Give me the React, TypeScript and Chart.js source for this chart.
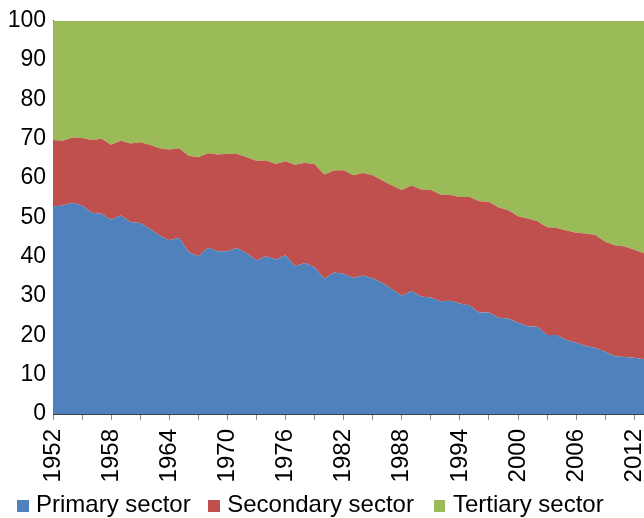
import React, { useEffect, useRef } from "react";
import { Chart, registerables } from "chart.js";

Chart.register(...registerables);

const YEARS = [
  "1952", "1953", "1954", "1955", "1956", "1957", "1958", "1959", "1960", "1961",
  "1962", "1963", "1964", "1965", "1966", "1967", "1968", "1969", "1970", "1971",
  "1972", "1973", "1974", "1975", "1976", "1977", "1978", "1979", "1980", "1981",
  "1982", "1983", "1984", "1985", "1986", "1987", "1988", "1989", "1990", "1991",
  "1992", "1993", "1994", "1995", "1996", "1997", "1998", "1999", "2000", "2001",
  "2002", "2003", "2004", "2005", "2006", "2007", "2008", "2009", "2010", "2011",
  "2012", "2013",
];

const PRIMARY = [
  52.8, 53.0, 53.7, 53.0, 51.2, 50.9, 49.4, 50.5, 48.8, 48.6,
  47.1, 45.4, 44.2, 44.8, 41.2, 40.1, 42.3, 41.4, 41.4, 42.2,
  40.9, 39.1, 40.1, 39.3, 40.4, 37.6, 38.4, 37.3, 34.4, 36.0,
  35.7, 34.6, 35.2, 34.5, 33.3, 31.7, 30.1, 31.3, 29.9, 29.6,
  28.7, 28.8, 28.1, 27.6, 25.8, 25.8, 24.5, 24.3, 23.2, 22.3,
  22.2, 20.1, 20.1, 18.8, 18.1, 17.3, 16.8, 15.8, 14.7, 14.5,
  14.3, 13.9,
];

const SECONDARY = [
  16.9, 16.5, 16.6, 17.2, 18.5, 19.1, 19.1, 19.0, 20.0, 20.5,
  21.4, 22.2, 23.1, 22.8, 24.5, 25.2, 24.0, 24.6, 24.8, 23.9,
  24.4, 25.3, 24.4, 24.3, 23.9, 25.8, 25.5, 26.2, 26.5, 25.9,
  26.3, 26.1, 26.1, 26.2, 26.1, 26.4, 26.9, 26.8, 27.2, 27.4,
  27.1, 26.9, 27.1, 27.6, 28.3, 28.2, 28.0, 27.5, 27.1, 27.4,
  26.8, 27.4, 27.2, 27.9, 28.0, 28.6, 28.7, 28.0, 28.2, 28.1,
  27.5, 27.0,
];

const TERTIARY = [
  30.3, 30.5, 29.7, 29.8, 30.3, 30.0, 31.5, 30.5, 31.2, 30.9,
  31.5, 32.4, 32.7, 32.4, 34.3, 34.7, 33.7, 34.0, 33.8, 33.9,
  34.7, 35.6, 35.5, 36.4, 35.7, 36.6, 36.1, 36.5, 39.1, 38.1,
  38.0, 39.3, 38.7, 39.3, 40.6, 41.9, 43.0, 41.9, 42.9, 43.0,
  44.2, 44.3, 44.8, 44.8, 45.9, 46.0, 47.5, 48.2, 49.7, 50.3,
  51.0, 52.5, 52.7, 53.3, 53.9, 54.1, 54.5, 56.2, 57.1, 57.4,
  58.2, 59.1,
];

const SERIES_NAMES = ["Primary sector", "Secondary sector", "Tertiary sector"];
const SERIES_COLORS = ["#4F81BD", "#C0504D", "#9BBB59"];

const Y_MIN = 0;
const Y_MAX = 100;
const Y_STEP = 10;
const LABEL_EVERY = 6;
const TICK_EVERY = 3;

const FONT = "'Liberation Sans', Arial, sans-serif";

export default function App() {
  const canvasRef = useRef<HTMLCanvasElement | null>(null);

  useEffect(() => {
    const canvas = canvasRef.current;
    if (!canvas) return;
    const seriesData = [PRIMARY, SECONDARY, TERTIARY];
    const chart = new Chart(canvas, {
      type: "line",
      data: {
        labels: YEARS,
        datasets: seriesData.map((d, i) => ({
          label: SERIES_NAMES[i],
          data: d,
          backgroundColor: SERIES_COLORS[i],
          borderColor: SERIES_COLORS[i],
          borderWidth: 0,
          pointRadius: 0,
          pointHoverRadius: 0,
          tension: 0,
          fill: i === 0 ? "origin" : "-1",
        })),
      },
      options: {
        responsive: false,
        animation: false,
        devicePixelRatio: 1,
        layout: { padding: { top: 19, right: 0, bottom: 34, left: 0 } },
        plugins: {
          legend: { display: false },
          tooltip: { enabled: false },
        },
        scales: {
          x: {
            offset: false,
            grid: {
              display: true,
              drawOnChartArea: false,
              drawTicks: true,
              tickLength: 6,
              tickColor: (ctx: any) =>
                ctx.index % TICK_EVERY === 0 ? "#8c8c8c" : "rgba(0,0,0,0)",
            },
            border: { display: true, color: "#404040", width: 1 },
            ticks: {
              autoSkip: false,
              maxRotation: 90,
              minRotation: 90,
              padding: 9,
              color: "#000000",
              font: { family: FONT, size: 24 },
              callback: (_v: any, i: number) =>
                i % LABEL_EVERY === 0 ? YEARS[i] : "",
            },
            afterFit: (scale: any) => {
              scale.height = 70;
              scale.paddingLeft = 0;
              scale.paddingRight = 0;
            },
          },
          y: {
            stacked: true,
            min: Y_MIN,
            max: Y_MAX,
            grid: { display: false, drawTicks: false },
            border: { display: true, color: "#404040", width: 1 },
            ticks: {
              stepSize: Y_STEP,
              padding: 7,
              color: "#000000",
              font: { family: FONT, size: 23 },
            },
            afterFit: (scale: any) => {
              scale.width = 53;
            },
          },
        },
      },
    });
    return () => chart.destroy();
  }, []);

  const legendItem = (i: number, ml: number) => (
    <div
      key={i}
      style={{ display: "flex", alignItems: "flex-start", marginLeft: ml }}
    >
      <div
        style={{
          width: 11.5,
          height: 11.5,
          marginTop: 8,
          background: SERIES_COLORS[i],
          marginRight: 7.5,
        }}
      />
      <span style={{ whiteSpace: "nowrap" }}>{SERIES_NAMES[i]}</span>
    </div>
  );

  return (
    <div
      style={{
        position: "fixed",
        left: 0,
        top: 0,
        width: 644,
        height: 518,
        background: "#ffffff",
        overflow: "hidden",
      }}
    >
      <canvas
        ref={canvasRef}
        width={644}
        height={518}
        style={{ position: "absolute", left: 0, top: 0, width: 644, height: 518 }}
      />
      <div
        style={{
          position: "absolute",
          left: 0,
          top: 492,
          display: "flex",
          fontFamily: FONT,
          fontSize: 24,
          lineHeight: "24px",
          color: "#000000",
        }}
      >
        {legendItem(0, 17)}
        {legendItem(1, 17.5)}
        {legendItem(2, 20)}
      </div>
    </div>
  );
}
